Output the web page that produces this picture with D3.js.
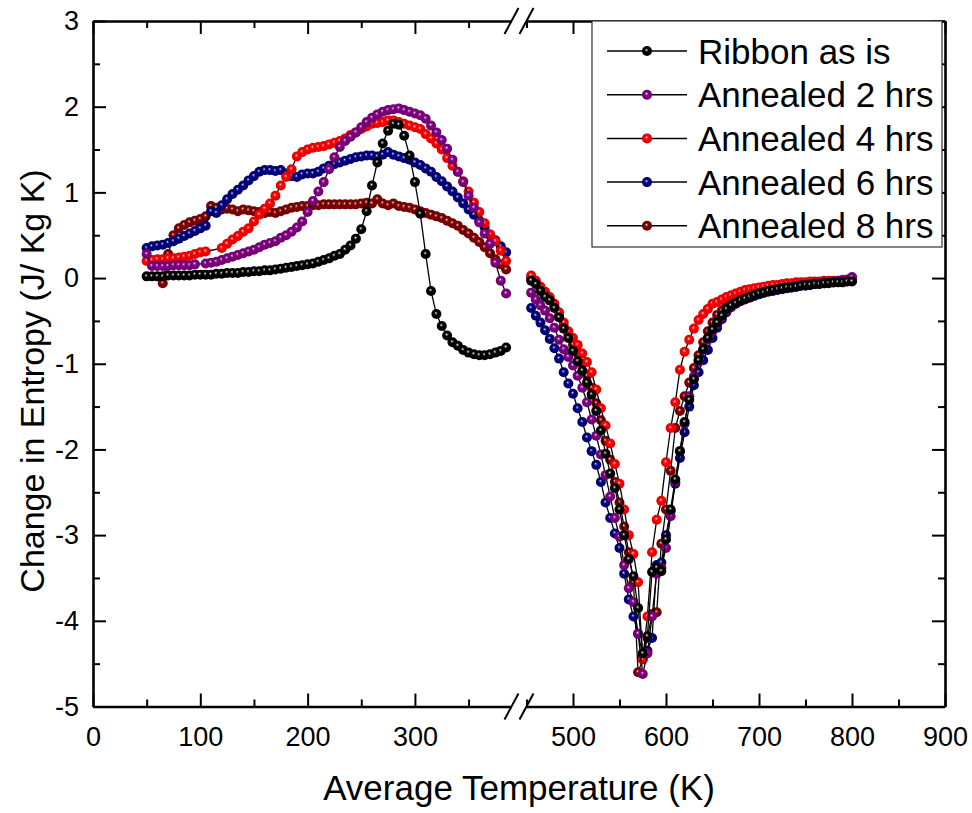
<!DOCTYPE html>
<html>
  <head>
    <meta charset="utf-8" />
    <title>Change in Entropy</title>
    <script src="https://d3js.org/d3.v7.min.js"></script>
    <style>
      body { margin: 0; background: #fff; }
      svg { display: block; font-family: Arial, "Liberation Sans", sans-serif; }
    </style>
  </head>
  <body>
    <svg width="972" height="813" id="chart"></svg>
    <script>
      // temperatures (K) left and right of the axis break
      const tempLeft = [50, 55, 60, 65, 70, 75, 80, 85, 90, 95,
        100, 105, 110, 115, 120, 125, 130, 135, 140, 145,
        150, 155, 160, 165, 170, 175, 180, 185, 190, 195,
        200, 205, 210, 215, 220, 225, 230, 235, 240, 245,
        250, 255, 260, 265, 270, 275, 280, 285, 290, 295,
        300, 305, 310, 315, 320, 325, 330, 335, 340, 345,
        350, 355, 360, 365, 370, 375, 380, 385];
      const tempRight = [455, 460, 465, 470, 475, 480, 485, 490, 495, 500,
        505, 510, 515, 520, 525, 530, 535, 540, 545, 550,
        555, 560, 565, 570, 575, 580, 585, 590, 595, 600,
        605, 610, 615, 620, 625, 630, 635, 640, 645, 650,
        655, 660, 665, 670, 675, 680, 685, 690, 695, 700,
        705, 710, 715, 720, 725, 730, 735, 740, 745, 750,
        755, 760, 765, 770, 775, 780, 785, 790, 795, 800];

      // Ribbon as is
      const ribbonLeft = [0.02, 0.02, 0.02, 0.02, 0.03, 0.03, 0.03, 0.03, 0.03, 0.04,
        0.04, 0.04, 0.04, 0.05, 0.05, 0.06, 0.06, 0.06, 0.07, 0.07,
        0.08, 0.08, 0.09, 0.09, 0.10, 0.11, 0.12, 0.13, 0.14, 0.15,
        0.16, 0.17, 0.19, 0.21, 0.23, 0.26, 0.28, 0.33, 0.38, 0.46,
        0.57, 0.78, 1.08, 1.35, 1.57, 1.72, 1.80, 1.79, 1.66, 1.43,
        1.12, 0.75, 0.28, -0.15, -0.42, -0.56, -0.67, -0.75, -0.79, -0.84,
        -0.87, -0.89, -0.90, -0.90, -0.89, -0.87, -0.85, -0.81];
      const ribbonRight = [-0.03, -0.07, -0.15, -0.22, -0.26, -0.35, -0.46, -0.59, -0.70, -0.85,
        -0.97, -1.08, -1.22, -1.36, -1.55, -1.78, -2.05, -2.28, -2.45, -2.70,
        -3.00, -3.28, -3.48, -3.85, -4.38, -4.18, -3.43, -3.38, -3.42, -3.05,
        -2.70, -2.35, -2.02, -1.68, -1.42, -1.18, -0.96, -0.83, -0.70, -0.60,
        -0.52, -0.44, -0.36, -0.32, -0.29, -0.26, -0.24, -0.22, -0.20, -0.18,
        -0.17, -0.15, -0.14, -0.13, -0.12, -0.11, -0.11, -0.10, -0.09, -0.08,
        -0.08, -0.07, -0.07, -0.06, -0.06, -0.05, -0.05, -0.05, -0.04, -0.04];

      // Annealed 2 hrs
      const ann2Left = [0.28, 0.14, 0.14, 0.14, 0.14, 0.15, 0.15, 0.15, 0.15, 0.16,
        null, 0.17, 0.18, 0.19, 0.21, 0.23, 0.25, 0.27, 0.29, 0.31,
        0.33, 0.36, 0.39, 0.41, 0.43, 0.47, 0.50, 0.54, 0.59, 0.66,
        0.77, 0.90, 1.01, 1.12, 1.27, 1.41, 1.53, 1.60, 1.65, 1.70,
        1.76, 1.82, 1.87, 1.91, 1.94, 1.96, 1.97, 1.98, 1.96, 1.94,
        1.92, 1.90, 1.86, 1.78, 1.70, 1.61, 1.51, 1.38, 1.24, 1.12,
        0.96, 0.82, 0.65, 0.52, 0.40, 0.18, -0.03, -0.18];
      const ann2Right = [-0.17, -0.25, -0.32, -0.38, -0.47, -0.58, -0.72, -0.83, -0.92, -1.02,
        -1.14, -1.28, -1.45, -1.65, -1.84, -2.06, -2.30, -2.55, -2.80, -3.02,
        -3.35, -3.62, -3.78, -4.15, -4.62, -4.38, -3.95, -3.45, -3.38, -3.15,
        -2.78, -2.38, -2.02, -1.70, -1.38, -1.15, -0.98, -0.84, -0.72, -0.62,
        -0.54, -0.46, -0.38, -0.33, -0.30, -0.27, -0.24, -0.22, -0.20, -0.18,
        -0.16, -0.15, -0.14, -0.13, -0.12, -0.11, -0.10, -0.09, -0.08, -0.08,
        -0.07, -0.06, -0.06, -0.05, -0.05, -0.04, -0.03, -0.03, -0.02, 0.01];

      // Annealed 4 hrs
      const ann4Left = [0.20, 0.21, 0.22, 0.22, 0.23, 0.23, 0.24, 0.25, 0.26, 0.28,
        0.30, 0.31, null, null, 0.35, 0.40, 0.45, 0.49, 0.54, 0.58,
        0.66, 0.74, 0.81, 0.87, 0.96, 1.08, 1.18, 1.27, 1.42, 1.47,
        1.50, 1.52, 1.53, 1.54, 1.56, 1.58, 1.60, 1.63, 1.67, 1.70,
        1.74, 1.77, 1.80, 1.81, 1.82, 1.84, 1.84, 1.82, 1.80, 1.78,
        1.76, 1.74, 1.68, 1.63, 1.57, 1.50, 1.40, 1.31, 1.24, 1.13,
        1.01, 0.88, 0.77, 0.64, 0.51, 0.43, 0.32, 0.20];
      const ann4Right = [0.03, -0.03, -0.10, -0.16, -0.22, -0.30, -0.40, -0.52, -0.62, -0.70,
        -0.78, -0.88, -0.98, -1.10, -1.30, -1.52, -1.72, -1.93, -2.17, -2.40,
        -2.70, -3.00, -3.22, -3.55, -4.45, -3.95, -3.20, -2.82, -2.60, -2.15,
        -1.75, -1.45, -1.07, -0.86, -0.72, -0.59, -0.49, -0.42, -0.36, -0.30,
        -0.28, -0.25, -0.22, -0.20, -0.18, -0.16, -0.14, -0.13, -0.12, -0.11,
        -0.10, -0.09, -0.08, -0.08, -0.07, -0.06, -0.06, -0.05, -0.05, -0.05,
        -0.04, -0.04, -0.04, -0.03, -0.03, -0.03, -0.03, -0.02, -0.02, -0.01];

      // Annealed 6 hrs
      const ann6Left = [0.35, 0.37, 0.38, 0.39, 0.41, 0.43, 0.46, 0.49, 0.52, 0.55,
        0.58, 0.61, 0.78, 0.76, 0.85, 0.92, 0.98, 1.03, 1.08, 1.14,
        1.19, 1.24, 1.26, 1.26, 1.25, 1.26, 1.22, 1.19, 1.18, 1.21,
        1.22, 1.22, 1.24, 1.28, 1.31, 1.33, 1.35, 1.37, 1.39, 1.41,
        1.42, 1.43, 1.43, 1.42, 1.44, 1.47, 1.44, 1.42, 1.40, 1.38,
        1.35, 1.32, 1.28, 1.24, 1.18, 1.13, 1.07, 1.01, 0.94, 0.87,
        0.80, 0.74, 0.67, 0.59, 0.50, 0.44, 0.37, 0.30];
      const ann6Right = [-0.35, -0.44, -0.52, -0.61, -0.71, -0.82, -0.94, -1.10, -1.23, -1.35,
        -1.52, -1.68, -1.86, -2.02, -2.18, -2.38, -2.62, -2.80, -2.98, -3.15,
        -3.45, -3.75, -3.95, -4.15, -4.40, -4.35, -4.20, -3.35, -3.32, -3.00,
        -2.72, -2.40, -2.10, -1.80, -1.50, -1.25, -1.10, -0.96, -0.84, -0.70,
        -0.58, -0.48, -0.40, -0.34, -0.30, -0.27, -0.25, -0.23, -0.21, -0.19,
        -0.17, -0.16, -0.15, -0.14, -0.13, -0.12, -0.11, -0.10, -0.09, -0.09,
        -0.08, -0.07, -0.07, -0.06, -0.05, -0.05, -0.04, -0.03, -0.02, 0.01];

      // Annealed 8 hrs
      const ann8Left = [null, null, null, -0.06, 0.28, 0.50, 0.58, 0.62, 0.65, 0.67,
        0.69, 0.72, 0.84, 0.82, 0.80, 0.81, 0.80, 0.78, 0.80, 0.79,
        0.78, 0.77, 0.76, 0.77, 0.76, 0.78, 0.80, 0.82, 0.83, 0.84,
        0.84, 0.85, 0.85, 0.86, 0.86, 0.86, 0.86, 0.86, 0.86, 0.86,
        0.87, 0.88, 0.87, 0.92, 0.87, 0.85, 0.87, 0.84, 0.83, 0.82,
        0.80, 0.78, 0.76, 0.74, 0.72, 0.70, 0.67, 0.64, 0.61, 0.56,
        0.52, 0.47, 0.42, 0.36, 0.29, 0.22, 0.16, 0.10];
      const ann8Right = [0.00, -0.05, -0.12, -0.20, -0.26, -0.33, -0.44, -0.56, -0.66, -0.78,
        -0.88, -1.00, -1.14, -1.28, -1.46, -1.66, -1.90, -2.12, -2.38, -2.62,
        -2.90, -3.20, -3.55, -4.60, -4.45, -4.20, -3.92, -3.90, -3.10, -2.70,
        -2.25, -1.75, -1.55, -1.38, -1.22, -1.05, -0.90, -0.75, -0.62, -0.52,
        -0.43, -0.38, -0.33, -0.29, -0.26, -0.24, -0.22, -0.20, -0.18, -0.17,
        -0.15, -0.14, -0.13, -0.12, -0.11, -0.10, -0.10, -0.09, -0.08, -0.08,
        -0.07, -0.07, -0.06, -0.06, -0.05, -0.05, -0.04, -0.04, -0.03, -0.03];

      const seriesNames = ["Ribbon as is", "Annealed 2 hrs", "Annealed 4 hrs", "Annealed 6 hrs", "Annealed 8 hrs"];
      const seriesColors = ["#000000", "#800080", "#ff0000", "#000080", "#800000"];
      const seriesLeft = [ribbonLeft, ann2Left, ann4Left, ann6Left, ann8Left];
      const seriesRight = [ribbonRight, ann2Right, ann4Right, ann6Right, ann8Right];

      const xMajorLeft = [0, 100, 200, 300];
      const xMinorLeft = [50, 150, 250, 350];
      const xMajorRight = [500, 600, 700, 800, 900];
      const xMinorRight = [450, 550, 650, 750, 850];
      const yMajor = [-5, -4, -3, -2, -1, 0, 1, 2, 3];
      const yMinor = [-4.5, -3.5, -2.5, -1.5, -0.5, 0.5, 1.5, 2.5];

      const svg = d3.select("#chart");

      const plotLeft = 93, plotRight = 945, plotTop = 21, plotBottom = 706.5;
      const breakL = 511.5, breakR = 526.5;

      const xLeft = d3.scaleLinear().domain([0, 390]).range([plotLeft, breakL]);
      const xRight = d3.scaleLinear().domain([450, 900]).range([breakR, plotRight]);
      const y = d3.scaleLinear().domain([-5, 3]).range([plotBottom, plotTop]);

      // ball-like marker gradients: small bright highlight, mostly solid colour
      const defs = svg.append("defs");
      seriesColors.forEach((c, i) => {
        const g = defs.append("radialGradient")
          .attr("id", "ball" + i)
          .attr("cx", "50%").attr("cy", "50%").attr("r", "55%")
          .attr("fx", "44%").attr("fy", "38%");
        const base = d3.color(c);
        g.append("stop").attr("offset", "0%").attr("stop-color", "#ffffff");
        g.append("stop").attr("offset", "12%").attr("stop-color", d3.interpolateRgb(c, "#ffffff")(i === 0 ? 0.55 : 0.45));
        g.append("stop").attr("offset", "34%").attr("stop-color", c);
        g.append("stop").attr("offset", "100%").attr("stop-color", base.darker(0.5).formatHex());
      });

      // data lines and markers (drawn bottom to top: 8 hrs first, ribbon last)
      const plot = svg.append("g");
      const order = [4, 3, 2, 1, 0];
      order.forEach(i => {
        const segs = [
          { x: xLeft, pts: tempLeft.map((t, k) => ({ t: t, v: seriesLeft[i][k] })).filter(d => d.v !== null) },
          { x: xRight, pts: tempRight.map((t, k) => ({ t: t, v: seriesRight[i][k] })).filter(d => d.v !== null) }
        ];
        const g = plot.append("g");
        segs.forEach(s => {
          const line = d3.line().x(d => s.x(d.t)).y(d => y(d.v));
          g.append("path")
            .datum(s.pts)
            .attr("d", line)
            .attr("fill", "none")
            .attr("stroke", "#000")
            .attr("stroke-width", 1.3);
        });
        segs.forEach(s => {
          g.selectAll(null)
            .data(s.pts)
            .enter()
            .append("circle")
            .attr("cx", d => s.x(d.t))
            .attr("cy", d => y(d.v))
            .attr("r", 5)
            .attr("fill", "url(#ball" + i + ")");
        });
      });

      // axes, all ticks pointing inwards
      const fmt = d => String(d);
      function styleAxis(g, fontSize) {
        g.selectAll(".domain").attr("stroke", "#000").attr("stroke-width", 2.6);
        g.selectAll(".tick line").attr("stroke", "#000").attr("stroke-width", 2);
        g.selectAll(".tick text").attr("fill", "#000").attr("font-size", fontSize);
        g.attr("font-family", null);
      }

      [[xLeft, xMajorLeft, xMinorLeft], [xRight, xMajorRight, xMinorRight]].forEach(([sc, major, minor]) => {
        svg.append("g").attr("transform", `translate(0,${plotBottom})`)
          .call(d3.axisBottom(sc).tickValues(major).tickFormat(fmt).tickSizeInner(-13).tickSizeOuter(0).tickPadding(20))
          .call(g => styleAxis(g, 27));
        svg.append("g").attr("transform", `translate(0,${plotBottom})`)
          .call(d3.axisBottom(sc).tickValues(minor).tickFormat("").tickSizeInner(-7).tickSizeOuter(0))
          .call(g => { styleAxis(g, 27); g.select(".domain").remove(); });
        svg.append("g").attr("transform", `translate(0,${plotTop})`)
          .call(d3.axisTop(sc).tickValues(major).tickFormat("").tickSizeInner(-13).tickSizeOuter(0))
          .call(g => styleAxis(g, 27));
        svg.append("g").attr("transform", `translate(0,${plotTop})`)
          .call(d3.axisTop(sc).tickValues(minor).tickFormat("").tickSizeInner(-7).tickSizeOuter(0))
          .call(g => { styleAxis(g, 27); g.select(".domain").remove(); });
      });

      svg.append("g").attr("transform", `translate(${plotLeft},0)`)
        .call(d3.axisLeft(y).tickValues(yMajor).tickFormat(fmt).tickSizeInner(-13).tickSizeOuter(0).tickPadding(14))
        .call(g => styleAxis(g, 27));
      svg.append("g").attr("transform", `translate(${plotLeft},0)`)
        .call(d3.axisLeft(y).tickValues(yMinor).tickFormat("").tickSizeInner(-7).tickSizeOuter(0))
        .call(g => { styleAxis(g, 27); g.select(".domain").remove(); });
      svg.append("g").attr("transform", `translate(${plotRight},0)`)
        .call(d3.axisRight(y).tickValues(yMajor).tickFormat("").tickSizeInner(-13).tickSizeOuter(0))
        .call(g => styleAxis(g, 27));
      svg.append("g").attr("transform", `translate(${plotRight},0)`)
        .call(d3.axisRight(y).tickValues(yMinor).tickFormat("").tickSizeInner(-7).tickSizeOuter(0))
        .call(g => { styleAxis(g, 27); g.select(".domain").remove(); });

      // break marks on top and bottom axes
      [plotTop, plotBottom].forEach(yy => {
        [breakL, breakR].forEach(bx => {
          svg.append("line")
            .attr("x1", bx - 7).attr("y1", yy + 13)
            .attr("x2", bx + 7).attr("y2", yy - 13)
            .attr("stroke", "#000").attr("stroke-width", 2);
        });
      });

      // axis titles
      svg.append("text")
        .attr("x", (plotLeft + plotRight) / 2).attr("y", 800)
        .attr("text-anchor", "middle").attr("font-size", 35)
        .text("Average Temperature (K)");
      svg.append("text")
        .attr("transform", "translate(44,381) rotate(-90)")
        .attr("text-anchor", "middle").attr("font-size", 34)
        .text("Change in Entropy (J/ Kg K)");

      // legend
      const legend = svg.append("g");
      legend.append("rect")
        .attr("x", 592).attr("y", plotTop).attr("width", 350).attr("height", 226)
        .attr("fill", "#fff").attr("stroke", "#333").attr("stroke-width", 1.2);
      const rows = legend.selectAll("g.row")
        .data(seriesNames)
        .enter()
        .append("g")
        .attr("class", "row")
        .attr("transform", (d, i) => `translate(0,${51 + i * 43.7})`);
      rows.append("line")
        .attr("x1", 607).attr("x2", 687).attr("y1", 0).attr("y2", 0)
        .attr("stroke", "#000").attr("stroke-width", 1.5);
      rows.append("circle")
        .attr("cx", 647).attr("cy", 0).attr("r", 5)
        .attr("fill", (d, i) => "url(#ball" + i + ")");
      rows.append("text")
        .attr("x", 698).attr("y", 12.5)
        .attr("font-size", 35)
        .text(d => d);
    </script>
  </body>
</html>
